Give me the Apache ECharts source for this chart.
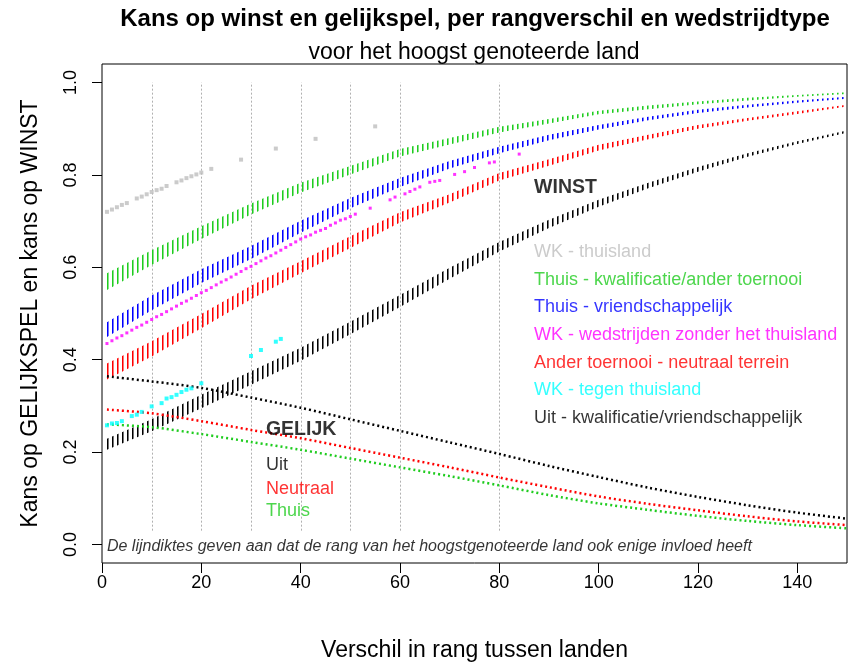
<!DOCTYPE html>
<html>
<head>
<meta charset="utf-8">
<script src="https://cdn.jsdelivr.net/npm/echarts@6/dist/echarts.min.js"></script>
<style>html,body{margin:0;padding:0;background:#fff}#c{width:849px;height:667px}</style>
</head>
<body>
<div id="c"></div>
<script>
// ---------- data ----------
const xTicks = [0, 20, 40, 60, 80, 100, 120, 140];
const yTicks = [0, 0.2, 0.4, 0.6, 0.8, 1.0];
const gridX = [10, 20, 30, 40, 50, 60, 80];
const gridFrom = 0.03, gridTo = 1.0;

// WINST bands (lower / upper edge of the band of dotted lines)
const bandX   = [1, 10, 20, 30, 40, 50, 60, 70, 80, 90, 100, 110, 120, 130, 140, 150];
const greenLo = [0.551,0.605,0.661,0.714,0.762,0.801,0.840,0.866,0.892,0.911,0.931,0.942,0.953,0.961,0.969,0.975];
const greenHi = [0.587,0.637,0.689,0.738,0.783,0.819,0.856,0.880,0.904,0.921,0.939,0.950,0.959,0.967,0.973,0.979];
const blueLo  = [0.449,0.507,0.566,0.618,0.675,0.728,0.774,0.814,0.847,0.875,0.898,0.918,0.934,0.946,0.956,0.965];
const blueHi  = [0.481,0.539,0.596,0.646,0.701,0.750,0.793,0.830,0.861,0.887,0.908,0.926,0.941,0.952,0.961,0.969];
const redLo   = [0.357,0.407,0.468,0.531,0.587,0.642,0.697,0.740,0.788,0.820,0.853,0.877,0.900,0.917,0.932,0.948];
const redHi   = [0.392,0.440,0.499,0.560,0.613,0.667,0.719,0.758,0.804,0.834,0.865,0.887,0.908,0.923,0.938,0.952];
const blackLo = [0.205,0.245,0.295,0.346,0.398,0.455,0.514,0.575,0.634,0.685,0.731,0.771,0.807,0.839,0.867,0.891];
const blackHi = [0.229,0.271,0.324,0.375,0.426,0.482,0.540,0.599,0.655,0.703,0.746,0.783,0.817,0.847,0.873,0.896];

// GELIJK lines
const gelX        = [1, 10, 20, 30, 40, 50, 60, 70, 80, 90, 100, 110, 120, 130, 140, 150];
const gelUit      = [0.364,0.353,0.339,0.318,0.296,0.271,0.246,0.221,0.196,0.170,0.146,0.123,0.103,0.085,0.069,0.056];
const gelNeutraal = [0.292,0.284,0.267,0.248,0.230,0.209,0.188,0.167,0.145,0.124,0.104,0.088,0.074,0.061,0.050,0.042];
const gelThuis    = [0.260,0.254,0.239,0.222,0.205,0.186,0.167,0.148,0.128,0.107,0.089,0.075,0.062,0.051,0.042,0.035];

// WK points
const grayX = [1,2,3,4,5,7,8,9,10,11,12,13,15,16,17,18,19,20,22,28,35,43,55];
const grayY = [0.720,0.725,0.730,0.735,0.739,0.749,0.753,0.758,0.763,0.767,0.770,0.776,0.784,0.788,0.793,0.797,0.801,0.805,0.813,0.833,0.857,0.878,0.905];
const cyanX = [1,2,3,4,6,7,8,10,12,13,14,15,16,17,18,20,30,32,35,36];
const cyanY = [0.258,0.262,0.263,0.267,0.278,0.281,0.287,0.299,0.306,0.316,0.319,0.324,0.330,0.335,0.338,0.349,0.408,0.421,0.439,0.445];
const magX = [1,2,3,4,5,6,7,8,9,10,11,12,13,14,15,16,17,18,19,20,21,22,23,24,25,26,27,28,29,30,
              31,32,33,34,35,36,37,38,39,40,41,42,43,44,45,46,47,48,49,50,51,
              54,58,59,61,62,63,64,66,67,68,71,73,75,78,79,84];
const magY = [0.435,0.441,0.447,0.452,0.458,0.464,0.470,0.475,0.481,0.487,0.493,0.498,0.504,0.510,0.516,
              0.522,0.527,0.533,0.539,0.545,0.550,0.556,0.562,0.568,0.573,0.579,0.585,0.591,0.597,0.602,
              0.608,0.614,0.620,0.625,0.631,0.637,0.643,0.649,0.655,0.661,0.666,0.670,0.676,0.680,0.684,
              0.691,0.696,0.702,0.705,0.710,0.715,
              0.728,0.746,0.752,0.759,0.764,0.769,0.774,0.784,0.786,0.788,0.801,0.807,0.816,0.826,0.828,0.845];

// annotations
const winstLabel = 'WINST', winstPos = [87, 0.78];
const legendLabels = ['WK - thuisland','Thuis - kwalificatie/ander toernooi','Thuis - vriendschappelijk',
  'WK - wedstrijden zonder het thuisland','Ander toernooi - neutraal terrein','WK - tegen thuisland',
  'Uit - kwalificatie/vriendschappelijk'];
const legendX = 87;
const legendY = [0.64, 0.58, 0.52, 0.46, 0.40, 0.34, 0.28];
const gelijkLabel = 'GELIJK', gelijkPos = [33, 0.255];
const gelijkLabels = ['Uit', 'Neutraal', 'Thuis'];
const gelijkX = 33;
const gelijkY = [0.178, 0.127, 0.078];
const noteText = 'De lijndiktes geven aan dat de rang van het hoogstgenoteerde land ook enige invloed heeft';
const notePos = [1, 0.003];

// ---------- styling ----------
const FONT = '"Liberation Sans", Arial, Helvetica, sans-serif';
const C = {gray:'#BEBEBE', green:'#1FCC1F', blue:'#0000FF', magenta:'#FF00FF', red:'#FF0000', cyan:'#00FFFF', black:'#000000'};
const legendColors = [C.gray, C.green, C.blue, C.magenta, C.red, C.cyan, C.black];
const gelijkColors = [C.black, C.red, C.green];
const LABEL_SHIFT = [0, 3];

function stripes(color) {
  const cv = document.createElement('canvas');
  cv.width = 5; cv.height = 4;
  const g = cv.getContext('2d');
  g.fillStyle = color;
  g.fillRect(0, 0, 1, 4);
  g.globalAlpha = 0.55;
  g.fillRect(1, 0, 1, 4);
  return cv;
}

// band of vertical dashes: polygon between lower and upper edge, filled with vertical stripes
function band(lo, hi, color) {
  const pat = { image: stripes(color), repeat: 'repeat', x: 2, y: 0 };
  return {
    type: 'custom', silent: true, z: 3, clip: true,
    data: bandX.map((x, i) => [x, lo[i], hi[i]]),
    encode: { x: 0, y: [1, 2] },
    renderItem: (params, api) => {
      if (params.dataIndexInside !== 0) return null;
      const n = bandX.length;
      const top = [], bot = [];
      for (let j = 0; j < n; j++) {
        top.push(api.coord([api.value(0, j), api.value(2, j)]));
        bot.unshift(api.coord([api.value(0, j), api.value(1, j)]));
      }
      return { type: 'polygon', shape: { points: top.concat(bot) },
               style: { fill: pat, stroke: null } };
    }
  };
}

function gel(vals, color) {
  return { type:'line', data: gelX.map((x,i)=>[x, vals[i]]), smooth:0.3, symbol:'none', silent:true, z:3,
           lineStyle:{ color: color, width:2.5, type:[2,3] } };
}

function pts(xs, ys, color, size) {
  return { type:'scatter', data: xs.map((x,i)=>[x, ys[i]]), symbol:'rect', symbolSize:size,
           itemStyle:{ color: color }, silent:true, z:4 };
}

const annData = [];
annData.push({ value: winstPos, label:{ formatter: winstLabel, fontWeight:'bold', fontSize:19.5, color:'#000' } });
legendLabels.forEach((t,i)=> annData.push({ value:[legendX, legendY[i]], label:{ formatter:t, fontSize:18, color: legendColors[i] } }));
annData.push({ value: gelijkPos, label:{ formatter: gelijkLabel, fontWeight:'bold', fontSize:19.5, color:'#000' } });
gelijkLabels.forEach((t,i)=> annData.push({ value:[gelijkX, gelijkY[i]], label:{ formatter:t, fontSize:18, color: gelijkColors[i] } }));
annData.push({ value: notePos, label:{ formatter: noteText, fontSize:16, fontStyle:'italic', color:'#000' } });

const chart = echarts.init(document.getElementById('c'), null, { renderer:'canvas', width:849, height:667 });

chart.setOption({
  animation: false,
  backgroundColor: '#ffffff',
  textStyle: { fontFamily: FONT },
  grid: { left:102, top:64, width:745, height:504, show:true, borderColor:'#000', borderWidth:1, backgroundColor:'transparent' },
  xAxis: {
    type:'value', min:0, max:150,
    axisLine:{ show:false, onZero:false },
    axisTick:{ show:true, length:10, customValues: xTicks, lineStyle:{ color:'#000', width:1 } },
    axisLabel:{ customValues: xTicks, fontSize:18, color:'#000', margin:11, fontFamily: FONT },
    splitLine:{ show:false },
    name:'Verschil in rang tussen landen', nameLocation:'middle', nameGap:76,
    nameTextStyle:{ fontSize:23, color:'#000', fontFamily: FONT }
  },
  yAxis: {
    type:'value', min:-0.04, max:1.04,
    axisLine:{ show:false, onZero:false },
    axisTick:{ show:true, length:10, customValues: yTicks, lineStyle:{ color:'#000', width:1 } },
    axisLabel:{ customValues: yTicks, rotate:90, fontSize:18, color:'#000', margin:22, fontFamily: FONT,
                formatter: v => Number(v).toFixed(1) },
    splitLine:{ show:false },
    name:'Kans op GELIJKSPEL en kans op WINST', nameLocation:'middle', nameGap:60, nameRotate:90,
    nameTextStyle:{ fontSize:23, color:'#000', fontFamily: FONT }
  },
  graphic: [
    { type:'text', x:475, y:19, style:{ text:'Kans op winst en gelijkspel, per rangverschil en wedstrijdtype',
      font:'bold 24px ' + FONT, fill:'#000', align:'center', verticalAlign:'middle', textAlign:'center', textVerticalAlign:'middle' } },
    { type:'text', x:474, y:53, style:{ text:'voor het hoogst genoteerde land',
      font:'23px ' + FONT, fill:'#000', align:'center', verticalAlign:'middle', textAlign:'center', textVerticalAlign:'middle' } }
  ],
  series: [
    { type:'custom', silent:true, z:1, data: gridX.map(x=>[x, gridFrom]),
      renderItem: (params, api) => {
        const p1 = api.coord([api.value(0), gridFrom]);
        const p2 = api.coord([api.value(0), gridTo]);
        const px = Math.round(p1[0]) + 0.5;
        return { type:'line', shape:{ x1:px, y1:p1[1], x2:px, y2:p2[1] },
                 style:{ stroke:'#B0B0B0', lineWidth:1, lineDash:[2,2] } };
      } },
    band(greenLo, greenHi, C.green),
    band(blueLo, blueHi, C.blue),
    band(redLo, redHi, C.red),
    band(blackLo, blackHi, C.black),
    gel(gelUit, C.black),
    gel(gelNeutraal, C.red),
    gel(gelThuis, C.green),
    pts(grayX, grayY, C.gray, 4),
    pts(magX, magY, C.magenta, 3),
    pts(cyanX, cyanY, C.cyan, 4),
    { type:'scatter', symbolSize:0, silent:true, z:5, data: annData,
      label:{ show:true, position:'right', distance:0, align:'left', verticalAlign:'middle', fontFamily: FONT, offset: LABEL_SHIFT } }
  ]
});
</script>
</body>
</html>
